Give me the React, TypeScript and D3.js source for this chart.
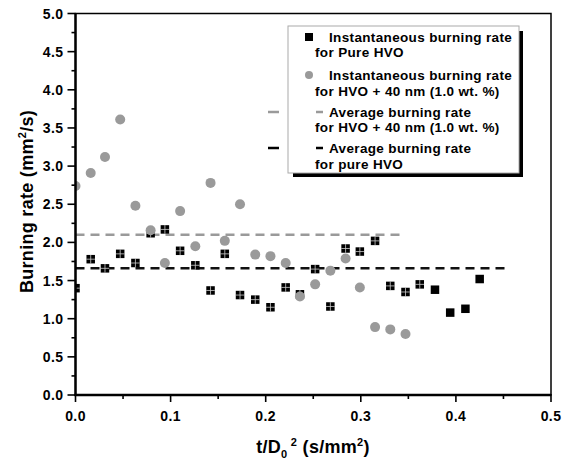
import * as d3 from "d3";

// t/D0^2 positions (s/mm^2)
const tValues = [0, 0.016, 0.031, 0.047, 0.063, 0.079, 0.094, 0.110, 0.126, 0.142, 0.157, 0.173, 0.189, 0.205,
  0.221, 0.236, 0.252, 0.268, 0.284, 0.299, 0.315, 0.331, 0.347, 0.362, 0.378, 0.394, 0.410, 0.425];

// instantaneous burning rate, pure HVO (mm^2/s)
const pureHvo = [1.40, 1.78, 1.66, 1.85, 1.73, 2.12, 2.17, 1.89, 1.70, 1.37, 1.85, 1.31, 1.25, 1.15,
  1.41, 1.32, 1.65, 1.16, 1.92, 1.88, 2.02, 1.43, 1.35, 1.45, 1.38, 1.08, 1.13, 1.52];

// instantaneous burning rate, HVO + 40 nm (1.0 wt. %)
const hvoNano = [2.74, 2.91, 3.12, 3.61, 2.48, 2.16, 1.73, 2.41, 1.95, 2.78, 2.02, 2.50, 1.84, 1.82,
  1.73, 1.29, 1.45, 1.63, 1.79, 1.41, 0.89, 0.86, 0.80];

// average lines
const avgNano = { value: 2.1, tEnd: 0.345 };
const avgPure = { value: 1.66, tEnd: 0.455 };

const xTicks = [0, 0.1, 0.2, 0.3, 0.4, 0.5];
const xMinor = [0.05, 0.15, 0.25, 0.35, 0.45];
const yTicks = [0, 0.5, 1, 1.5, 2, 2.5, 3, 3.5, 4, 4.5, 5];
const yMinor = [0.25, 0.75, 1.25, 1.75, 2.25, 2.75, 3.25, 3.75, 4.25, 4.75];

const legendLines = [
  "Instantaneous burning rate",
  "for Pure HVO",
  "Instantaneous burning rate",
  "for HVO + 40 nm (1.0 wt. %)",
  "Average burning rate",
  "for HVO + 40 nm (1.0 wt. %)",
  "Average burning rate",
  "for pure HVO",
];

const W = 569;
const H = 464;
const margin = { top: 13.5, right: 18, bottom: 69, left: 75.5 };
const font = "'Liberation Sans', Arial, sans-serif";
const grey = "#9a9a9a";

export default function App() {
  const x = d3.scaleLinear().domain([0, 0.5]).range([margin.left, W - margin.right]);
  const y = d3.scaleLinear().domain([0, 5]).range([H - margin.bottom, margin.top]);
  const [x0, x1] = x.range();
  const [yb, yt] = y.range();
  const sq = 8.5;

  return (
    <svg width={W} height={H} style={{ position: "absolute", left: 0, top: 0, background: "#fff" }}
      fontFamily={font} fontWeight="bold">
      <defs>
        <clipPath id="plot-clip">
          <rect x={x0} y={yt} width={x1 - x0} height={yb - yt} />
        </clipPath>
      </defs>

      {/* average lines */}
      <line x1={x(0)} x2={x(avgNano.tEnd)} y1={y(avgNano.value)} y2={y(avgNano.value)}
        stroke={grey} strokeWidth={2.5} strokeDasharray="9,6" />
      <line x1={x(0)} x2={x(avgPure.tEnd)} y1={y(avgPure.value)} y2={y(avgPure.value)}
        stroke="#111" strokeWidth={2.5} strokeDasharray="9,6" />

      <g clipPath="url(#plot-clip)">
        {pureHvo.map((v, i) => (
          <g key={"s" + i}>
            <rect x={x(tValues[i]) - sq / 2} y={y(v) - sq / 2} width={sq} height={sq} fill="#000" />
            {i < 24 && (
              <path d={`M${x(tValues[i]) - sq / 2},${y(v)}h${sq}M${x(tValues[i])},${y(v) - sq / 2}v${sq}`}
                stroke="#fff" strokeWidth={0.8} opacity={0.8} />
            )}
          </g>
        ))}
        {hvoNano.map((v, i) => (
          <circle key={"c" + i} cx={x(tValues[i])} cy={y(v)} r={5} fill={grey} />
        ))}
      </g>

      {/* frame */}
      <rect x={x0} y={yt} width={x1 - x0} height={yb - yt} fill="none" stroke="#000" strokeWidth={1.5} />
      <line x1={x0} x2={x0} y1={yt} y2={yb + 1} stroke="#000" strokeWidth={2.4} />
      <line x1={x0 - 1} x2={x1} y1={yb} y2={yb} stroke="#000" strokeWidth={2.4} />

      {/* x axis ticks */}
      {xTicks.map((t) => (
        <g key={"xt" + t}>
          <line x1={x(t)} x2={x(t)} y1={yb - 1} y2={yb + 7} stroke="#000" strokeWidth={1.6} />
          <text x={x(t)} y={421} textAnchor="middle" fontSize={14} letterSpacing={0.4}>{t.toFixed(1)}</text>
        </g>
      ))}
      {xMinor.map((t) => (
        <line key={"xm" + t} x1={x(t)} x2={x(t)} y1={yb} y2={yb + 4} stroke="#000" strokeWidth={1.6} />
      ))}

      {/* y axis ticks */}
      {yTicks.map((t) => (
        <g key={"yt" + t}>
          <line x1={x0 - 8} x2={x0} y1={y(t)} y2={y(t)} stroke="#000" strokeWidth={1.6} />
          <text x={x0 - 12} y={y(t) + 5} textAnchor="end" fontSize={14} letterSpacing={0.4}>{t.toFixed(1)}</text>
        </g>
      ))}
      {yMinor.map((t) => (
        <line key={"ym" + t} x1={x0 - 4} x2={x0} y1={y(t)} y2={y(t)} stroke="#000" strokeWidth={1.6} />
      ))}

      {/* axis titles */}
      <text transform={`translate(32.5,201.5) rotate(-90)`} textAnchor="middle" fontSize={18} letterSpacing={0.3}>
        Burning rate (mm<tspan dy={-7} fontSize={11}>2</tspan><tspan dy={7}>/s)</tspan>
      </text>
      <text x={313} y={453} textAnchor="middle" fontSize={18} letterSpacing={0.3}>
        t/D<tspan dy={5} fontSize={11}>0</tspan><tspan dy={-12} fontSize={11}> 2</tspan>
        <tspan dy={7}> (s/mm</tspan><tspan dy={-7} fontSize={11}>2</tspan><tspan dy={7}>)</tspan>
      </text>

      {/* legend */}
      <rect x={293} y={31} width={230} height={146} fill="#000" />
      <rect x={288} y={26} width={231} height={147} fill="#fff" stroke="#aaa" strokeWidth={1} />
      <rect x={309 - 4} y={37 - 4} width={8} height={8} fill="#000" />
      <circle cx={309} cy={75} r={4} fill={grey} />
      <line x1={268} x2={323} y1={112} y2={112} stroke={grey} strokeWidth={2.5} strokeDasharray="11,37,7" />
      <line x1={268} x2={323} y1={148} y2={148} stroke="#000" strokeWidth={2.5} strokeDasharray="11,37,7" />
      {legendLines.map((s, i) => {
        const baselines = [41.5, 57, 80, 95.5, 116.5, 132, 153, 168.5];
        return (
          <text key={"l" + i} x={i % 2 === 0 ? 329 : 315} y={baselines[i]} fontSize={13.5} letterSpacing={0.35}>{s}</text>
        );
      })}
    </svg>
  );
}
